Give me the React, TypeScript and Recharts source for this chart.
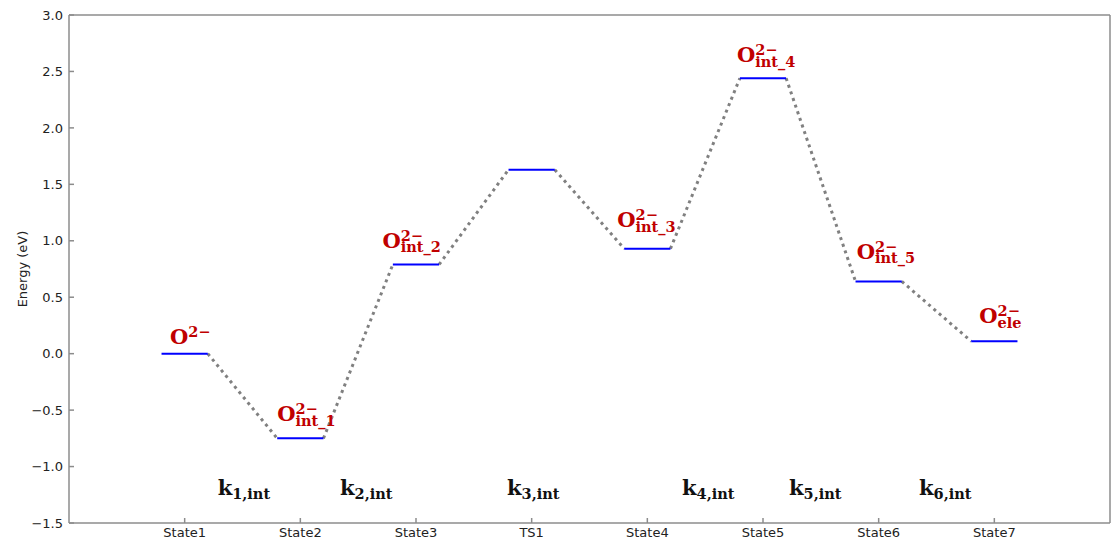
import React from 'react';
import { LineChart, Line, XAxis, YAxis, ReferenceDot } from 'recharts';

// ---------- data ----------
const stateLabels = ['State1', 'State2', 'State3', 'TS1', 'State4', 'State5', 'State6', 'State7'];
const stateX = [1, 2, 3, 4, 5, 6, 7, 8];
const energies = [0.0, -0.75, 0.79, 1.63, 0.93, 2.44, 0.64, 0.11];
const yTicks = [-1.5, -1.0, -0.5, 0.0, 0.5, 1.0, 1.5, 2.0, 2.5, 3.0];

const speciesSubs = ['', 'int_1', 'int_2', 'int_3', 'int_4', 'int_5', 'ele'];
const speciesLabelX = [0.873, 1.8, 2.71, 4.74, 5.775, 6.81, 7.87];
const speciesLabelY = [0.09, -0.6, 0.94, 1.12, 2.58, 0.84, 0.27];

const rateSubs = ['1,int', '2,int', '3,int', '4,int', '5,int', '6,int'];
const rateLabelX = [1.285, 2.343, 3.787, 5.3, 6.225, 7.349];
const rateLabelY = -1.25;

// ---------- derived series ----------
const HALF = 0.2;
const levelSeries = energies.map((e, i) => [
  { x: stateX[i] - HALF, y: e },
  { x: stateX[i] + HALF, y: e },
]);
const connectorSeries = energies.slice(0, -1).map((e, i) => [
  { x: stateX[i] + HALF, y: e },
  { x: stateX[i + 1] - HALF, y: energies[i + 1] },
]);

const AXIS_COLOR = '#8c8c8c';
const TEXT_COLOR = '#222222';
const RED = '#c00000';
const SERIF = "'DejaVu Serif', serif";

const fmtY = (v: number) => {
  const s = Math.abs(v).toFixed(1);
  return v < 0 ? '\u2212' + s : s;
};

const makeSpeciesLabel = (sub: string) => (props: any) => {
  const vb = props.viewBox || {};
  const x = vb.x;
  const y = vb.y;
  return (
    <g>
      <text x={x} y={y} fontFamily={SERIF} fontWeight="bold" fill={RED}>
        <tspan fontSize={21}>O</tspan>
        <tspan fontSize={14.5} dy={-7}>2{'\u2212'}</tspan>
      </text>
      {sub ? (
        <text x={x} y={y} fontFamily={SERIF} fontWeight="bold" fill={RED}>
          <tspan fontSize={21} fill="none">O</tspan>
          <tspan fontSize={14.5} dy={4.5}>{sub}</tspan>
        </text>
      ) : null}
    </g>
  );
};

const makeRateLabel = (sub: string) => (props: any) => {
  const vb = props.viewBox || {};
  return (
    <text x={vb.x} y={vb.y} fontFamily={SERIF} fontWeight="bold" fill="#111">
      <tspan fontSize={21}>k</tspan>
      <tspan fontSize={14.5} dy={4.3}>{sub}</tspan>
    </text>
  );
};

const yLabelContent = (props: any) => {
  const vb = props.viewBox || { x: 0, y: 0, width: 0, height: 0 };
  const cx = vb.x + 22;
  const cy = vb.y + vb.height / 2;
  return (
    <text
      x={cx}
      y={cy}
      transform={`rotate(-90, ${cx}, ${cy})`}
      textAnchor="middle"
      dominantBaseline="central"
      fontFamily="'DejaVu Sans', sans-serif"
      fontSize={13}
      fill={TEXT_COLOR}
    >
      Energy (eV)
    </text>
  );
};

export default function App() {
  return (
    <div style={{ position: 'absolute', left: 0, top: 0, background: '#fff' }}>
      <LineChart width={1111} height={550} margin={{ top: 14, right: 0, bottom: 0, left: 0 }}>
        <XAxis
          xAxisId={0}
          type="number"
          dataKey="x"
          domain={[0, 9]}
          ticks={stateX}
          interval={0}
          allowDataOverflow
          tickFormatter={(v: number) => stateLabels[stateX.indexOf(v)] ?? ''}
          height={27}
          tickSize={-5}
          tickMargin={10}
          stroke={AXIS_COLOR}
          strokeWidth={1.5}
          tick={{ fill: TEXT_COLOR, fontSize: 13, fontFamily: "'DejaVu Sans', sans-serif" }}
        />
        <XAxis
          xAxisId="top"
          orientation="top"
          type="number"
          dataKey="x"
          domain={[0, 9]}
          ticks={stateX}
          interval={0}
          allowDataOverflow
          height={1}
          tickSize={-5}
          tick={false}
          stroke={AXIS_COLOR}
          strokeWidth={1.5}
        />
        <YAxis
          yAxisId={0}
          type="number"
          domain={[-1.5, 3]}
          ticks={yTicks}
          interval={0}
          allowDataOverflow
          tickFormatter={fmtY}
          width={69}
          tickSize={-5}
          tickMargin={11}
          stroke={AXIS_COLOR}
          strokeWidth={1.5}
          tick={{ fill: TEXT_COLOR, fontSize: 13, fontFamily: "'DejaVu Sans', sans-serif" }}
          label={{ content: yLabelContent }}
        />
        <YAxis
          yAxisId="right"
          orientation="right"
          type="number"
          domain={[-1.5, 3]}
          ticks={yTicks}
          interval={0}
          allowDataOverflow
          width={1}
          tickSize={-5}
          tick={false}
          stroke={AXIS_COLOR}
          strokeWidth={1.5}
        />

        {connectorSeries.map((seg, i) => (
          <Line
            key={'c' + i}
            data={seg}
            dataKey="y"
            stroke="#808080"
            strokeWidth={3}
            strokeDasharray="3 4"
            dot={false}
            activeDot={false}
            isAnimationActive={false}
          />
        ))}
        {levelSeries.map((seg, i) => (
          <Line
            key={'l' + i}
            data={seg}
            dataKey="y"
            stroke="#0000ff"
            strokeWidth={2}
            dot={false}
            activeDot={false}
            isAnimationActive={false}
          />
        ))}

        {speciesSubs.map((sub, i) => (
          <ReferenceDot
            key={'s' + i}
            x={speciesLabelX[i]}
            y={speciesLabelY[i]}
            r={0}
            fill="none"
            stroke="none"
            label={makeSpeciesLabel(sub)}
          />
        ))}
        {rateSubs.map((sub, i) => (
          <ReferenceDot
            key={'k' + i}
            x={rateLabelX[i]}
            y={rateLabelY}
            r={0}
            fill="none"
            stroke="none"
            label={makeRateLabel(sub)}
          />
        ))}
      </LineChart>
    </div>
  );
}
